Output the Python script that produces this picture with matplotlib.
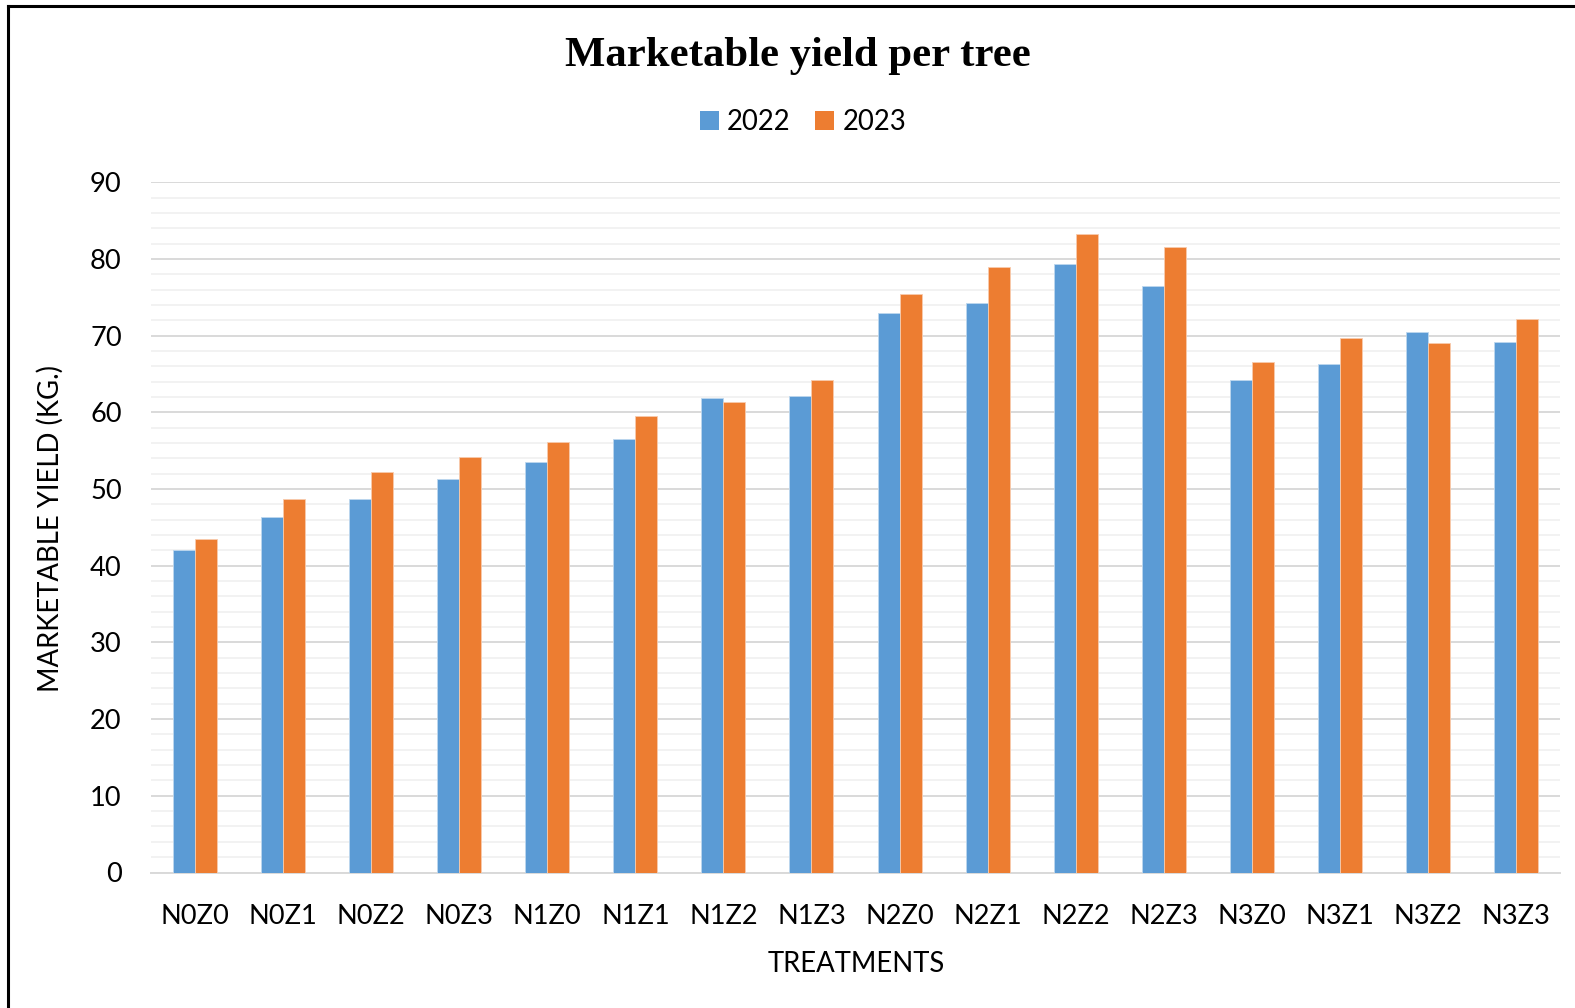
import matplotlib
matplotlib.use("Agg")
import matplotlib.pyplot as plt
import numpy as np
from matplotlib.ticker import MultipleLocator
from matplotlib.patches import Patch
from matplotlib.lines import Line2D

categories = ["N0Z0", "N0Z1", "N0Z2", "N0Z3", "N1Z0", "N1Z1", "N1Z2", "N1Z3",
              "N2Z0", "N2Z1", "N2Z2", "N2Z3", "N3Z0", "N3Z1", "N3Z2", "N3Z3"]
y2022 = [42.1, 46.4, 48.7, 51.3, 53.5, 56.5, 61.8, 62.1,
         72.9, 74.3, 79.3, 76.5, 64.2, 66.3, 70.5, 69.2]
y2023 = [43.5, 48.7, 52.2, 54.2, 56.1, 59.5, 61.4, 64.2,
         75.4, 78.9, 83.3, 81.5, 66.6, 69.7, 69.0, 72.2]
series_names = ["2022", "2023"]

BLUE = "#5B9BD5"
ORANGE = "#ED7D31"
FONT = "Lato"
TS = 19.6

fig = plt.figure(figsize=(15.75, 10.08), dpi=100)
ax = fig.add_axes([151/1575, 1 - 872.5/1008, (1560-151)/1575, (872.5-182.2)/1008])

x = np.arange(len(categories))
w = 0.25
ax.bar(x - w/2, y2022, w, color=BLUE, edgecolor="#BDD7EE", linewidth=0.6, zorder=3)
ax.bar(x + w/2, y2023, w, color=ORANGE, edgecolor="#F8CBAD", linewidth=0.6, zorder=3)

ax.set_xlim(-0.5, len(categories) - 0.5)
ax.set_ylim(0, 90)
ax.yaxis.set_major_locator(MultipleLocator(10))
ax.yaxis.set_minor_locator(MultipleLocator(2))
ax.grid(axis="y", which="major", color="#D9D9D9", linewidth=1.4, zorder=1)
ax.grid(axis="y", which="minor", color="#F2F2F2", linewidth=1.4, zorder=0)
ax.grid(axis="x", visible=False)
for s in ["top", "right", "left"]:
    ax.spines[s].set_visible(False)
ax.spines["bottom"].set_color("#D9D9D9")
ax.spines["bottom"].set_linewidth(1.4)
ax.tick_params(axis="both", which="both", length=0)
ax.tick_params(axis="y", pad=21)
ax.tick_params(axis="x", pad=23)
ax.set_xticks(x)
ax.set_xticklabels(categories, fontsize=TS, family=FONT)
for lab in ax.get_yticklabels():
    lab.set_fontsize(TS)
    lab.set_family(FONT)

fig.text(50/1575, 1 - 528/1008, "MARKETABLE YIELD (KG.)", rotation=90,
         ha="center", va="center", fontsize=19.8, family=FONT)
fig.text(856/1575, 1 - 964/1008, "TREATMENTS", ha="center", va="center",
         fontsize=19.8, family=FONT)
fig.text(798/1575, 1 - 56/1008, "Marketable yield per tree", ha="center", va="center",
         fontsize=30.8, fontweight="bold", family="Liberation Serif")

handles = [Patch(facecolor=BLUE), Patch(facecolor=ORANGE)]
leg = fig.legend(handles, series_names, loc="center", bbox_to_anchor=(803/1575, 1 - 122/1008),
                 ncol=2, frameon=False, prop={"family": FONT, "size": TS + 0.2},
                 handlelength=0.68, handleheight=0.68, handletextpad=0.3, columnspacing=0.9)

# outer chart border (left and top visible)
fig.add_artist(Line2D([7.5/1575, 7.5/1575], [0, 1 - 5.5/1008], color="black", linewidth=2.2,
                      transform=fig.transFigure))
fig.add_artist(Line2D([7.5/1575, 1], [1 - 5.5/1008, 1 - 5.5/1008], color="black", linewidth=2.2,
                      transform=fig.transFigure))

fig.savefig("out.png", dpi=100, facecolor="white")
